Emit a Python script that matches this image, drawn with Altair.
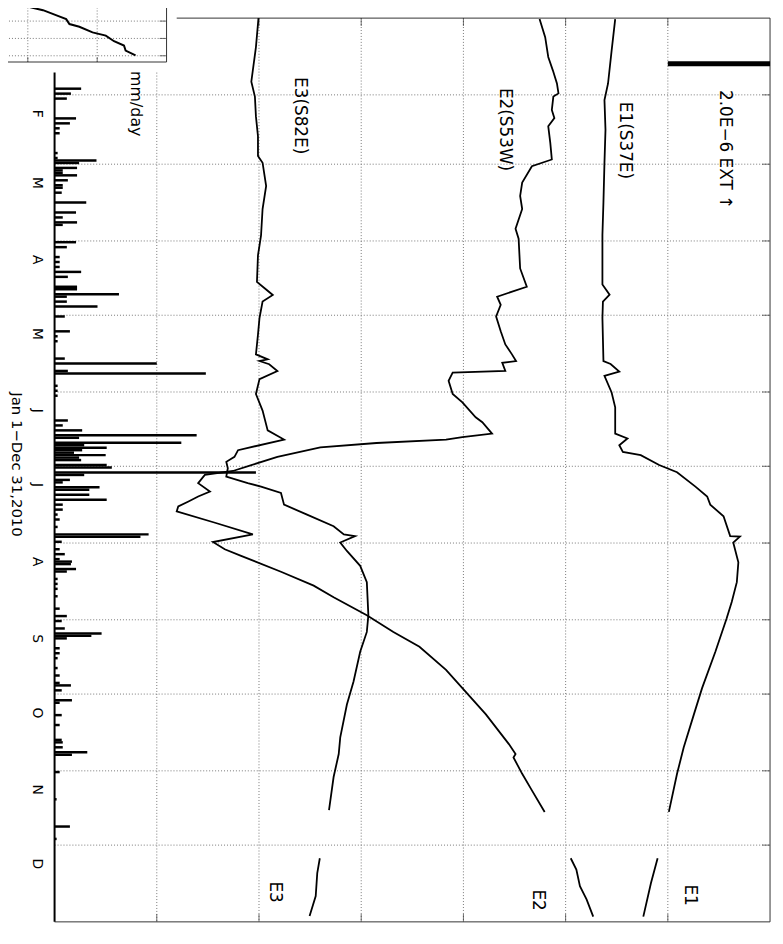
import altair as alt
import pandas as pd

# ---------------- data ----------------
# time: day of year 2010 (0 = Jan 1); strain in 1e-6 (one grid = 2.0E-6); rain in mm/day
month_start = [0, 31, 59, 90, 120, 151, 181, 212, 243, 273, 304, 334, 365]
month_letters = ["F", "M", "A", "M", "J", "J", "A", "S", "O", "N", "D"]
strain_grid = [2, 4, 6, 8, 10, 12]

e1_day_a = [0.4, 13.1, 26.4, 33.1, 45.1, 58.4, 74.4, 87.6, 107.6, 111.7, 114.5, 121.1, 138.5, 139.7,
            142.8, 144.5, 151.2, 157.2, 167.8, 169.8, 172.5, 175.2, 176.5, 180.5, 183.4, 189.2, 193.2,
            196.5, 201.2, 209.2, 209.4, 211.8, 219.8, 227.8, 235.8, 242.5, 255.9, 270.6, 281.2, 294.6,
            305.2, 320.6]
e1_val_a = [10.97, 10.90, 10.83, 10.76, 10.78, 10.76, 10.74, 10.72, 10.72, 10.86, 10.73, 10.72, 10.74,
            10.88, 11.05, 10.76, 10.90, 10.97, 10.97, 11.21, 11.05, 11.12, 11.47, 11.83, 12.18, 12.54,
            12.77, 12.83, 13.09, 13.22, 13.41, 13.28, 13.38, 13.35, 13.25, 13.15, 12.93, 12.67, 12.51,
            12.31, 12.18, 12.02]
e1_day_b = [339.3, 349.3, 362.9]
e1_val_b = [11.80, 11.67, 11.52]

e2_day_a = [0.4, 7.7, 15.7, 21.1, 26.4, 30.4, 31.7, 37.1, 40.4, 43.7, 50.4, 57.1, 59.8, 66.4, 71.8,
            77.1, 85.1, 89.1, 101.1, 108.5, 112.5, 115.8, 120.5, 126.5, 131.8, 135.8, 138.5, 139.2,
            142.5, 143.2, 146.5, 151.8, 155.2, 161.2, 163.2, 167.8, 169.2, 170.2, 171.6, 173.4, 177.2,
            180.5, 182.9, 184.5, 187.8, 191.2, 193.2, 195.2, 197.2, 199.2, 203.8, 208.5, 211.6, 214.5,
            217.2, 223.6, 229.2, 233.9, 241.2, 247.9, 253.9, 263.2, 270.6, 281.2, 293.2, 297.2, 298.6,
            305.2, 311.9, 320.6]
e2_val_a = [9.49, 9.60, 9.66, 9.75, 9.83, 9.86, 9.76, 9.73, 9.78, 9.66, 9.70, 9.73, 9.34, 9.15, 9.11,
            9.15, 9.02, 9.08, 9.11, 9.24, 8.66, 8.73, 8.64, 8.73, 8.82, 8.95, 9.03, 8.76, 8.82, 7.79,
            7.71, 7.79, 7.98, 8.24, 8.37, 8.56, 7.98, 7.66, 6.30, 5.20, 4.36, 3.85, 3.49, 2.94, 2.81,
            3.04, 2.81, 2.62, 2.42, 2.39, 3.14, 3.88, 3.10, 3.33, 3.65, 4.43, 5.07, 5.46, 6.11, 6.63,
            7.14, 7.66, 7.98, 8.44, 8.89, 9.02, 8.98, 9.15, 9.34, 9.59]
e2_day_b = [339.3, 343.9, 350.6, 355.9, 362.9]
e2_val_b = [10.10, 10.21, 10.28, 10.41, 10.54]

e3_day_a = [0, 11.7, 25.7, 31.7, 39.7, 47.7, 55.7, 58.4, 67.8, 77.1, 87.8, 95.8, 106.5, 109.1, 111.8,
            114.5, 121.1, 127.8, 135.8, 137.8, 138.5, 139.8, 142.5, 145.8, 151.8, 158.5, 166.5, 170.2,
            174.5, 177.2, 179.2, 181.8, 185.2, 187.8, 189.2, 191.8, 196.5, 200.5, 205.2, 208.5, 209.2,
            211.8, 215.2, 221.2, 227.8, 241.2, 247.9, 255.9, 267.9, 277.2, 290.5, 297.2, 306.5, 319.9]
e3_val_a = [3.99, 3.94, 3.85, 3.92, 3.94, 3.98, 3.98, 4.07, 4.14, 4.07, 4.04, 3.98, 3.96, 4.11, 4.27,
            4.07, 4.01, 3.98, 3.94, 4.17, 4.01, 4.20, 4.36, 4.01, 3.94, 4.07, 4.17, 4.49, 3.59, 3.52,
            3.36, 3.39, 3.36, 3.78, 4.04, 4.43, 4.49, 4.94, 5.46, 5.66, 5.88, 5.59, 5.72, 5.98, 6.11,
            6.14, 6.11, 5.98, 5.85, 5.72, 5.59, 5.56, 5.46, 5.37]
e3_day_b = [339.3, 345.3, 354.6, 362.6]
e3_val_b = [5.19, 5.14, 5.11, 4.99]

rain_day = [28, 30, 32, 40, 42, 44, 46, 54, 56, 57, 58, 60, 61, 62, 63, 65, 67, 68, 70, 74, 78, 80, 82,
            83, 90, 92, 96, 98, 100, 102, 104, 108, 109, 111, 112, 114, 116, 120, 126, 128, 130, 137,
            139, 142, 143, 148, 150, 152, 162, 164, 166, 168, 169, 171, 172, 173, 174, 175, 176, 177,
            178, 180, 181, 183, 184, 186, 187, 189, 190, 192, 194, 196, 198, 200, 202, 205, 208, 209,
            211, 214, 216, 218, 219, 220, 222, 223, 226, 228, 230, 233, 238, 241, 243, 246, 248, 249,
            250, 254, 256, 258, 262, 265, 268, 269, 271, 275, 276, 281, 285, 291, 292, 294, 296, 297,
            304, 315, 326, 331]
rain_mm = [26, 16, 12, 21, 15, 5, 5, 3, 3, 41, 24, 22, 8, 8, 22, 13, 8, 8, 7, 31, 21, 8, 22,
           8, 21, 12, 5, 5, 5, 26, 13, 22, 22, 63, 12, 12, 42, 10, 15, 3, 3, 10,
           100, 13, 148, 3, 3, 3, 13, 8, 27, 139, 24, 124, 29, 51, 27, 19, 50, 24,
           26, 51, 56, 197, 29, 15, 8, 44, 34, 34, 51, 8, 8, 3, 5, 3, 92, 84,
           7, 5, 10, 5, 17, 16, 21, 12, 3, 3, 3, 3, 5, 12, 7, 10, 46, 36,
           12, 5, 5, 3, 3, 5, 5, 16, 7, 17, 5, 7, 5, 7, 8, 8, 32, 17,
           5, 2, 15, 2]
RAIN_PER_GRID = 100.0  # mm/day per 2.0E-6 grid

inset_x = [0.886, 1.053, 1.219, 1.433, 1.553, 1.6, 1.743, 1.933, 2.124, 2.243, 2.386, 2.41, 2.553]
inset_y = [3.97, 3.78, 3.63, 3.30, 3.11, 2.83, 2.67, 2.35, 2.16, 1.84, 1.59, 1.30, 1.02]

labels = ["2.0E−6  EXT ↑", "E1(S37E)", "E2(S53W)", "E3(S82E)", "mm/day", "E1", "E2", "E3",
          "Jan 1−Dec 31,2010"]
label_val = [13.12, 11.16, 8.82, 4.81, 1.60, 12.43, 9.46, 4.32, -0.74]
label_day = [53.1, 49.4, 45.0, 39.4, 34.6, 354.2, 356.2, 353.0, 180.3]
label_size = [17, 17, 17, 17, 16, 17, 17, 17, 15]

# ---------------- layout constants ----------------
W, H = 722, 912
RAIN_TOP_DAY = 22        # top of the rainfall strip
TOP_EDGE_START = 2.39    # where the main top border starts (right of inset)
SCALEBAR = (12, 14, 18.4)

xs = alt.Scale(domain=[0, 14], nice=False, zero=False)
ys = alt.Scale(domain=[0, 365], nice=False, zero=False, reverse=True)


def X(f):
    return alt.X(f, type="quantitative", scale=xs, axis=None)


def Y(f):
    return alt.Y(f, type="quantitative", scale=ys, axis=None)


# curves table
parts = []
for name, d_a, v_a, d_b, v_b in [("E1", e1_day_a, e1_val_a, e1_day_b, e1_val_b),
                                 ("E2", e2_day_a, e2_val_a, e2_day_b, e2_val_b),
                                 ("E3", e3_day_a, e3_val_a, e3_day_b, e3_val_b)]:
    for part, dd, vv in [("a", d_a, v_a), ("b", d_b, v_b)]:
        parts.append(pd.DataFrame({"key": name + part, "day": dd, "val": vv, "i": range(len(dd))}))
curves_df = pd.concat(parts, ignore_index=True)

rain_df = pd.DataFrame({"day": rain_day, "mm": rain_mm})

# grid segments (x0,x1,d0,d1)
grid_rows = []
for d in month_start[1:12]:
    grid_rows.append({"s0": 0, "s1": 14, "d0": d, "d1": d})
for s in strain_grid:
    grid_rows.append({"s0": s, "s1": s, "d0": RAIN_TOP_DAY if s == 2 else 0, "d1": 365})
grid_df = pd.DataFrame(grid_rows)

frame_df = pd.DataFrame([
    {"s0": TOP_EDGE_START, "s1": 14, "d0": 0, "d1": 0},
    {"s0": 14, "s1": 14, "d0": 0, "d1": 365},
    {"s0": 0, "s1": 14, "d0": 365, "d1": 365},
])
base_df = pd.DataFrame([{"s0": 0, "s1": 0, "d0": RAIN_TOP_DAY, "d1": 365}])

grid = alt.Chart(grid_df).mark_rule(color="#777", strokeDash=[1, 2], strokeWidth=1).encode(
    x=X("s0"), x2="s1", y=Y("d0"), y2="d1")
frame = alt.Chart(frame_df).mark_rule(color="#333", strokeWidth=1).encode(
    x=X("s0"), x2="s1", y=Y("d0"), y2="d1")
baseline = alt.Chart(base_df).mark_rule(color="black", strokeWidth=2).encode(
    x=X("s0"), x2="s1", y=Y("d0"), y2="d1")

tick_s = pd.DataFrame({"s": strain_grid})
tick_d = pd.DataFrame({"d": month_start[1:12]})
top_ticks = alt.Chart(tick_s[tick_s.s >= 4]).mark_tick(orient="vertical", size=8, thickness=1, color="#333").encode(
    x=X("s"), y=alt.value(4))
bot_ticks = alt.Chart(tick_s).mark_tick(orient="vertical", size=8, thickness=1, color="#333").encode(
    x=X("s"), y=alt.value(H - 4))
right_ticks = alt.Chart(tick_d).mark_tick(orient="horizontal", size=8, thickness=1, color="#333").encode(
    y=Y("d"), x=alt.value(W - 4))

rain = alt.Chart(rain_df).transform_calculate(
    x0="0", x1=f"datum.mm * 2 / {RAIN_PER_GRID}", d1="datum.day + 1"
).mark_rect(color="black").encode(x=X("x0"), x2="x1", y=Y("day"), y2="d1")

lines = alt.Chart(curves_df).mark_line(color="black", strokeWidth=1.8).encode(
    x=X("val"), y=Y("day"), detail="key:N", order="i:Q")

sb_df = pd.DataFrame([{"s0": SCALEBAR[0], "s1": SCALEBAR[1], "d": SCALEBAR[2]}])
scalebar = alt.Chart(sb_df).mark_rule(color="black", strokeWidth=5).encode(
    x=X("s0"), x2="s1", y=Y("d"))

text_df = pd.DataFrame({"label": labels, "s": label_val, "d": label_day, "fs": label_size})
texts = alt.Chart(text_df).mark_text(angle=90, font="DejaVu Sans", align="center",
                                     baseline="middle", color="black").encode(
    x=X("s"), y=Y("d"), text="label:N", size=alt.Size("fs:Q", scale=None))

mon_df = pd.DataFrame({"label": month_letters, "d": [m + 7.6 for m in month_start[1:12]]})
months = alt.Chart(mon_df).transform_calculate(s="-0.35").mark_text(
    angle=90, font="DejaVu Sans", fontSize=14, align="center", baseline="middle", color="black").encode(
    x=X("s"), y=Y("d"), text="label:N")

main = alt.layer(grid, frame, top_ticks, bot_ticks, right_ticks, rain, baseline, lines, scalebar,
                 texts, months)

# ---------------- inset (own scales, top-left corner) ----------------
ixs = alt.Scale(domain=[0, 3], range=[-97, 113], nice=False, zero=False)
iys = alt.Scale(domain=[0, 4], range=[55.5, -14.5], nice=False, zero=False)
INSET_BOTTOM = 0.64

igrid_rows = [{"a0": 0, "a1": 3, "b0": v, "b1": v} for v in [1, 2, 3]] + \
             [{"a0": v, "a1": v, "b0": INSET_BOTTOM, "b1": 4.2} for v in [1, 2]]
iframe_rows = [{"a0": 3, "a1": 3, "b0": INSET_BOTTOM, "b1": 4.2},
               {"a0": 0, "a1": 3, "b0": INSET_BOTTOM, "b1": INSET_BOTTOM}]
igrid = alt.Chart(pd.DataFrame(igrid_rows)).mark_rule(color="#777", strokeDash=[1, 2]).encode(
    x=alt.X("a0:Q", scale=ixs, axis=None), x2="a1", y=alt.Y("b0:Q", scale=iys, axis=None), y2="b1")
iframe = alt.Chart(pd.DataFrame(iframe_rows)).mark_rule(color="#333").encode(
    x=alt.X("a0:Q", scale=ixs, axis=None), x2="a1", y=alt.Y("b0:Q", scale=iys, axis=None), y2="b1")
irt = alt.Chart(pd.DataFrame({"b": [1, 2, 3]})).mark_tick(orient="horizontal", size=7, thickness=1,
                                                          color="#333").encode(
    y=alt.Y("b:Q", scale=iys, axis=None), x=alt.value(113 - 3.5))
ibt = alt.Chart(pd.DataFrame({"a": [1, 2]})).mark_tick(orient="vertical", size=5, thickness=1,
                                                       color="#333").encode(
    x=alt.X("a:Q", scale=ixs, axis=None), y=alt.value(44.3 - 2.5))
iline = alt.Chart(pd.DataFrame({"a": inset_x, "b": inset_y, "i": range(len(inset_x))})).mark_line(
    color="black", strokeWidth=2).encode(
    x=alt.X("a:Q", scale=ixs, axis=None), y=alt.Y("b:Q", scale=iys, axis=None), order="i:Q")
inset = alt.layer(igrid, iframe, irt, ibt, iline)

chart = alt.layer(main, inset).resolve_scale(x="independent", y="independent").properties(
    width=W, height=H, autosize="none",
    padding={"left": 47, "top": 6, "right": 5, "bottom": 4},
    background="white",
).configure_view(stroke=None)

chart.save("out.html", embed_options={"renderer": "svg", "actions": False})
